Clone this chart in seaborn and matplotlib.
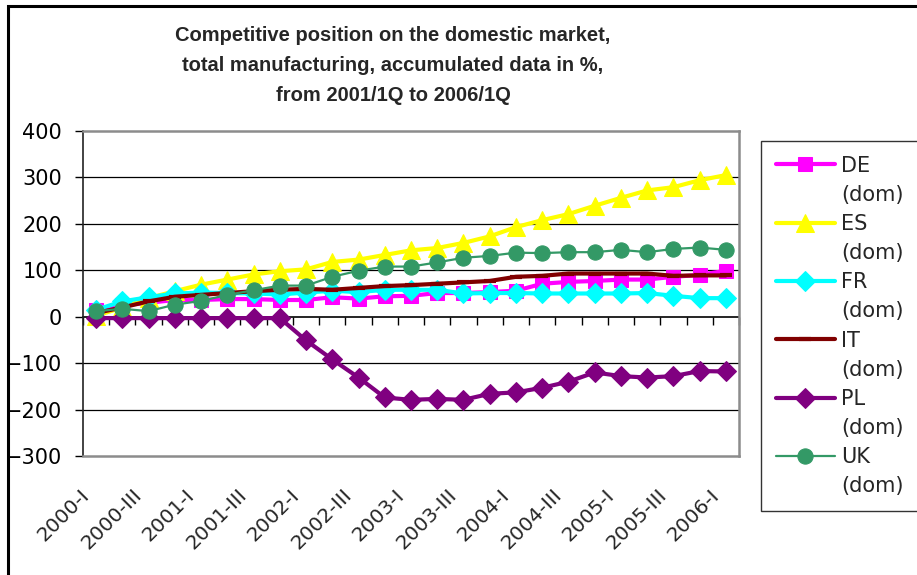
import numpy as np
import pandas as pd
import matplotlib
matplotlib.use("Agg")
import matplotlib.pyplot as plt
import seaborn as sns
from matplotlib.lines import Line2D
from matplotlib.patches import Rectangle
from matplotlib.transforms import ScaledTranslation

# === DATA ===
quarters = ["2000-I", "2000-II", "2000-III", "2000-IV",
            "2001-I", "2001-II", "2001-III", "2001-IV",
            "2002-I", "2002-II", "2002-III", "2002-IV",
            "2003-I", "2003-II", "2003-III", "2003-IV",
            "2004-I", "2004-II", "2004-III", "2004-IV",
            "2005-I", "2005-II", "2005-III", "2005-IV",
            "2006-I"]
shown_labels = ["2000-I", "2000-III", "2001-I", "2001-III", "2002-I", "2002-III",
                "2003-I", "2003-III", "2004-I", "2004-III", "2005-I", "2005-III", "2006-I"]

de = [15, 25, 30, 36, 36, 38, 38, 36, 36, 42, 39, 44, 45, 51, 51, 53, 56, 71, 75, 77, 80, 80, 86, 90, 99]
es = [2, 20, 40, 55, 69, 80, 91, 98, 102, 118, 123, 133, 143, 148, 159, 173, 193, 208, 221, 239, 256, 272, 279, 294, 305]
fr = [15, 33, 42, 50, 52, 51, 50, 48, 52, 56, 53, 58, 58, 58, 50, 51, 51, 50, 50, 50, 50, 51, 45, 40, 40]
it = [8, 20, 33, 43, 47, 51, 55, 58, 60, 58, 62, 66, 68, 71, 74, 77, 86, 88, 93, 93, 93, 93, 88, 89, 89]
pl = [-3, -3, -3, -3, -3, -3, -3, -3, -51, -92, -131, -174, -179, -177, -179, -166, -163, -153, -140, -120, -128, -131, -128, -117, -118]
uk = [12, 17, 12, 26, 34, 47, 57, 67, 67, 86, 99, 108, 108, 117, 127, 131, 138, 137, 139, 139, 144, 139, 146, 149, 144]

countries = ["DE", "ES", "FR", "IT", "PL", "UK"]
values = {"DE": de, "ES": es, "FR": fr, "IT": it, "PL": pl, "UK": uk}

df = pd.DataFrame({"quarter": quarters, "pos": np.arange(len(quarters))})
for c in countries:
    df[c] = values[c]

# === STYLE ===
sns.set_style("white")
plt.rcParams["font.family"] = ["DejaVu Sans"]

styles = {
    "DE": dict(color="#FF00FF", marker="s", markersize=10, linewidth=3),
    "ES": dict(color="#FFFF00", marker="^", markersize=13, linewidth=3),
    "FR": dict(color="#00FFFF", marker="D", markersize=10, linewidth=3),
    "IT": dict(color="#800000", marker="_", markersize=9, linewidth=3, markeredgewidth=3),
    "PL": dict(color="#800080", marker="D", markersize=10, linewidth=3),
    "UK": dict(color="#339966", marker="o", markersize=11, linewidth=1.6),
}

fig = plt.figure(figsize=(9.17, 5.75), dpi=100)
ax = fig.add_axes([83 / 917, 1 - 456 / 575, (739 - 83) / 917, (456 - 131) / 575])

handles = []
for c in countries:
    st = styles[c]
    sns.lineplot(data=df, x="pos", y=c, ax=ax, legend=False,
                 markeredgecolor=st["color"], markerfacecolor=st["color"], **st)
    handles.append(ax.lines[-1])

ax.set_xlim(-0.5, len(quarters) - 0.5)
ax.set_ylim(-300, 400)
ax.set_yticks(np.arange(-300, 401, 100))
ax.tick_params(axis="y", labelsize=15, length=6, width=1, direction="out",
               left=True, pad=9, colors="black")
ax.set_xlabel("")
ax.set_ylabel("")

# horizontal gridlines
for yv in [-200, -100, 100, 200, 300]:
    ax.axhline(yv, color="black", linewidth=0.9, zorder=0)

for side in ["top", "right", "bottom"]:
    ax.spines[side].set_color("#8c8c8c")
    ax.spines[side].set_linewidth(1.8)
ax.spines["left"].set_color("#222222")
ax.spines["left"].set_linewidth(1.2)

# tick labels at bottom, every second quarter
label_pos = [quarters.index(q) for q in shown_labels]
ax.set_xticks(label_pos)
ax.set_xticklabels(shown_labels, rotation=45, ha="right", va="center",
                   rotation_mode="anchor", fontsize=14.5)
ax.tick_params(axis="x", length=0, pad=26)
offset = ScaledTranslation(-0.10, 0, fig.dpi_scale_trans)
for lbl in ax.get_xticklabels():
    lbl.set_transform(lbl.get_transform() + offset)

# category axis crossing at zero
sec = ax.secondary_xaxis(300 / 700)
sec.set_xticks(np.arange(-0.5, len(quarters), 1.0))
sec.set_xticklabels([])
sec.tick_params(axis="x", direction="out", length=6, width=1, colors="black")
sec.spines["bottom"].set_color("black")
sec.spines["bottom"].set_linewidth(1.2)

# legend with two-line labels
leg_handles, leg_labels = [], []
blank = Line2D([], [], linestyle="none", marker=None)
for c, h in zip(countries, handles):
    leg_handles += [h, blank]
    leg_labels += [c, "(dom)"]
leg = fig.legend(leg_handles, leg_labels, loc="upper left",
                 bbox_to_anchor=(761 / 917, 1 - 141 / 575),
                 bbox_transform=fig.transFigure, fontsize=15,
                 handlelength=2.85, handletextpad=0.3, labelspacing=0.44,
                 borderpad=0.7, borderaxespad=0, frameon=True, fancybox=False)
leg.get_frame().set_edgecolor("black")
leg.get_frame().set_linewidth(1.0)

# title
fig.text(393 / 917, 1 - 26 / 575,
         "Competitive position on the domestic market,\n"
         "total manufacturing, accumulated data in %,\n"
         "from 2001/1Q to 2006/1Q",
         ha="center", va="top", fontsize=14.5, fontweight="bold",
         family=["Liberation Sans", "DejaVu Sans"], linespacing=1.72)

# outer chart border (cropped at right and bottom)
fig.patches.append(Rectangle((8 / 917, -0.2), 1.5, 1.2 - 6 / 575,
                             transform=fig.transFigure, fill=False,
                             edgecolor="black", linewidth=2.2))

fig.savefig("out.png", dpi=100, facecolor="white")
